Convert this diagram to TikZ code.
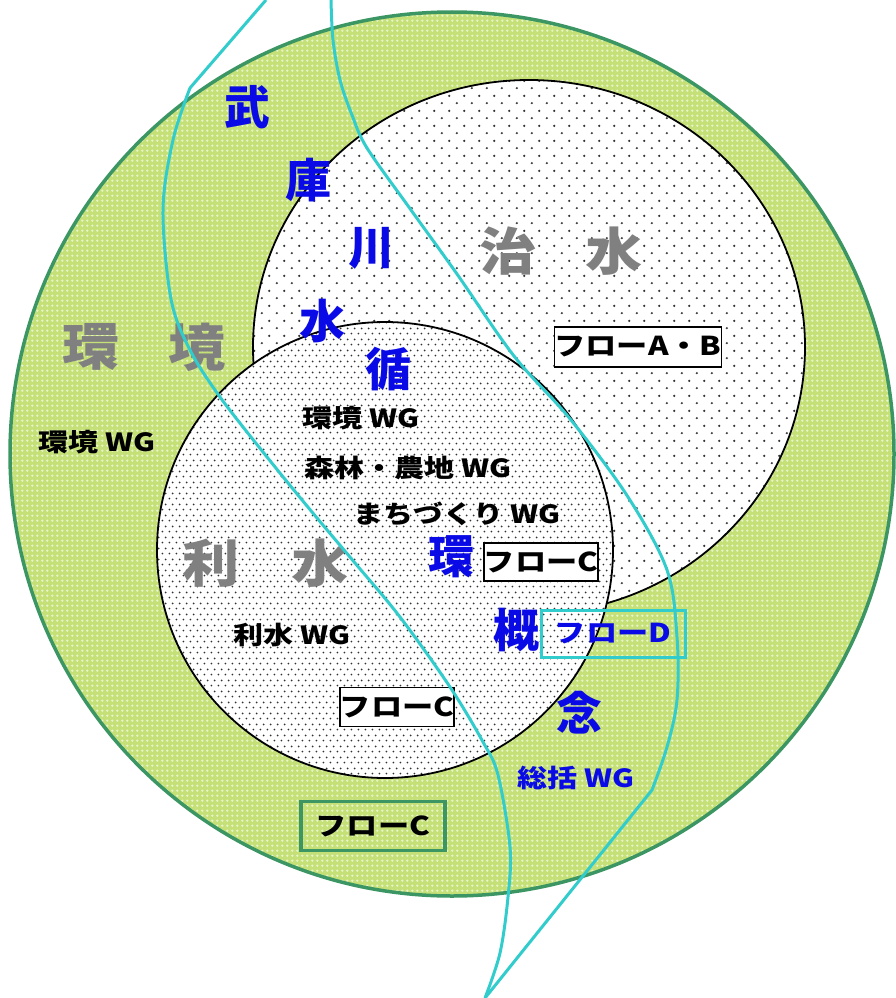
\documentclass[tikz,border=0pt]{standalone}
\usepackage{fontspec}
\setmainfont{Noto Sans CJK JP}
\newfontfamily\wgfont{Noto Sans CJK JP}[FakeStretch=1.2]
\newfontfamily\grayfont{Noto Sans CJK JP}[FakeStretch=1.12]
\usetikzlibrary{patterns.meta}
\definecolor{cyanl}{RGB}{51,204,204}
\definecolor{ringg}{RGB}{60,150,100}
\definecolor{leaf}{RGB}{196,224,118}
\definecolor{blu}{RGB}{10,10,230}
\definecolor{gry}{RGB}{128,128,128}
\definecolor{dotc}{RGB}{50,50,50}
\tikzdeclarepattern{name=sparsedots, type=uncolored,
  bounding box={(0pt,0pt) and (15.3pt,15.3pt)}, tile size={(15.3pt,15.3pt)},
  code={\fill (3pt,3pt) circle (1.3pt); \fill (10.65pt,10.65pt) circle (1.3pt);}}
\tikzdeclarepattern{name=densedots, type=uncolored,
  bounding box={(0pt,0pt) and (6.7pt,10.6pt)}, tile size={(6.7pt,10.6pt)},
  code={\fill (1.5pt,1.5pt) circle (1pt); \fill (4.85pt,6.8pt) circle (1pt);}}
\tikzdeclarepattern{name=leafpat, type=uncolored,
  bounding box={(0pt,0pt) and (5.3pt,5.3pt)}, tile size={(5.3pt,5.3pt)},
  code={\fill (2.65pt,1.2pt) -- (4.1pt,2.65pt) -- (2.65pt,4.1pt) -- (1.2pt,2.65pt) -- cycle;}}
\tikzset{
  bigblue/.style={text=blu, font=\fontsize{46}{46}\selectfont\bfseries, inner sep=0pt},
  biggray/.style={text=gry, font=\grayfont\fontsize{51}{51}\selectfont\bfseries, inner sep=0pt},
  wgtext/.style={text=black, font=\wgfont\fontsize{25}{25}\selectfont\bfseries, inner sep=0pt},
  wgblue/.style={text=blu, font=\wgfont\fontsize{25}{25}\selectfont\bfseries, inner sep=0pt},
  flowbox/.style={draw=black, line width=1.6pt, fill=white, font=\wgfont\fontsize{26}{26}\selectfont\bfseries, inner sep=0pt},
  cyanline/.style={draw=cyanl, line width=3pt},
}
\begin{document}
\begin{tikzpicture}[x=1pt,y=-1pt]
\useasboundingbox (0,0) rectangle (895,998);
% outer ring
\fill[leaf] (452,454) circle [radius=442];
\fill[pattern=leafpat, pattern color=white!60!leaf] (452,454) circle [radius=442];
\draw[ringg, line width=3.5pt] (452,454) circle [radius=442];
% upper right ellipse
\fill[white] (529,347) ellipse [x radius=276, y radius=267];
\fill[pattern=sparsedots, pattern color=dotc] (529,347) ellipse [x radius=276, y radius=267];
\draw[black, line width=1.8pt] (529,347) ellipse [x radius=276, y radius=267];
% lower left circle
\fill[white] (385,550) circle [radius=228];
\fill[pattern=densedots, pattern color=dotc] (385,550) circle [radius=228];
\draw[black, line width=1.8pt] (385,550) circle [radius=228];
% big labels
\node[bigblue] (bu) at (247,107) {武};
\node[bigblue] (ko) at (308,180) {庫};
\node[bigblue] (se) at (371,248) {川};
\node[bigblue] (mi) at (322,321) {水};
\node[bigblue] (ju) at (388,369) {循};
\node[bigblue] (ka) at (451,557) {環};
\node[bigblue] (gai) at (516,630) {概};
\node[bigblue] (nen) at (579,713) {念};
\node[biggray] (chi) at (508,251) {治};
\node[biggray] (sui) at (614,251) {水};
\node[biggray] (kan) at (91,347) {環};
\node[biggray] (kyo) at (197,347) {境};
\node[biggray] (ri) at (211,563) {利};
\node[biggray] (rsui) at (320,563) {水};
% WG labels
\node[wgtext] (wg1) at (97,442) {環境 WG};
\node[wgtext] (wg2) at (361,418) {環境 WG};
\node[wgtext] (wg3) at (408,468) {森林・農地 WG};
\node[wgtext] (wg4) at (457,514) {まちづくり WG};
\node[wgtext] (wg5) at (292,635) {利水 WG};
\node[wgblue] (wg6) at (576,778) {総括 WG};
% flow boxes
\node[flowbox, minimum width=167pt, minimum height=40pt] (fab) at (638,347) {フローA・B};
\node[flowbox, minimum width=114pt, minimum height=38pt] (fc1) at (541,562) {フローC};
\node[flowbox, minimum width=113pt, minimum height=39pt] (fc2) at (397,707) {フローC};
\node[flowbox, draw=ringg, fill=none, line width=3.5pt, minimum width=144pt, minimum height=49pt] (fc3) at (373,826) {フローC};
\node[flowbox, draw=cyanl, fill=none, text=blu, line width=3pt, minimum width=144pt, minimum height=47pt] (fd) at (613,634) {フローD};
% cyan curves
\draw[cyanline, line join=round] (266,0) -- (190,88) plot[smooth, tension=0.55] coordinates {(190,88) (173,140) (163,210) (171,299) (190,350) (220,397) (267,457) (312,512) (355,563) (400,617) (450,687) (483,742) (498,775) (510,847) (508,897) (500,953) (485,998)};
\draw[cyanline, line join=round] plot[smooth, tension=0.55] coordinates {(331,0) (333,40) (340,80) (352,115) (367,148) (411,210) (457,274) (514,356) (571,420) (628,497) (667,570) (677,637) (677,700) (667,747) (652,790)} -- (485,998);
\end{tikzpicture}
\end{document}
